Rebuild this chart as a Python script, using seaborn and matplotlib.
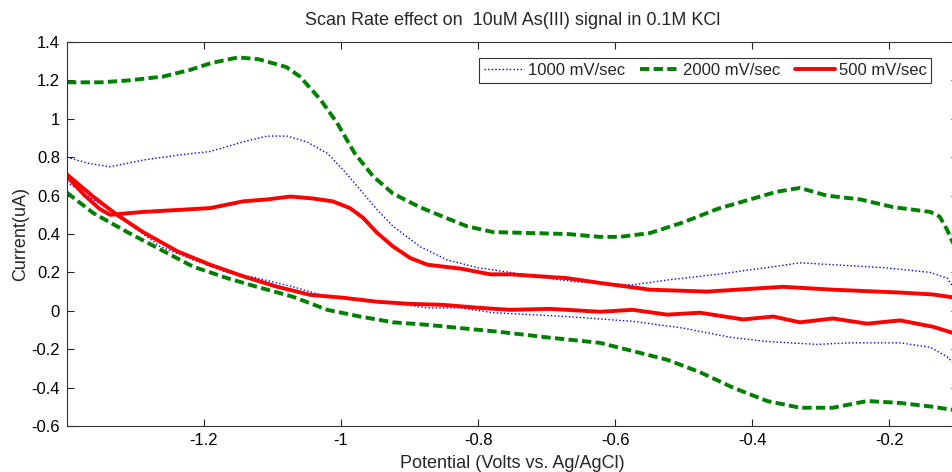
import numpy as np
import pandas as pd
import matplotlib
matplotlib.use("Agg")
import matplotlib.pyplot as plt
import seaborn as sns

# ---------------- data ----------------
series_labels = ["1000 mV/sec", "2000 mV/sec", "500 mV/sec"]

# 2000 mV/sec
g_up_x = [-1.40, -1.35, -1.31, -1.26, -1.22, -1.19, -1.15, -1.12, -1.08, -1.06, -1.03, -1.006,
          -0.98, -0.953, -0.924, -0.885, -0.851, -0.816, -0.778, -0.67, -0.622, -0.593, -0.549,
          -0.501, -0.451, -0.403, -0.364, -0.33, -0.291, -0.242, -0.194, -0.14, -0.126, -0.115,
          -0.107, -0.10]
g_up_y = [1.19, 1.19, 1.20, 1.22, 1.255, 1.29, 1.32, 1.31, 1.27, 1.22, 1.10, 0.98,
          0.82, 0.70, 0.61, 0.54, 0.49, 0.44, 0.41, 0.40, 0.385, 0.385, 0.405,
          0.46, 0.53, 0.58, 0.62, 0.64, 0.60, 0.58, 0.54, 0.515, 0.49, 0.42,
          0.355, 0.30]
g_lo_x = [-1.40, -1.362, -1.312, -1.264, -1.216, -1.166, -1.123, -1.07, -1.02, -0.972, -0.924,
          -0.874, -0.826, -0.768, -0.695, -0.622, -0.574, -0.524, -0.476, -0.428, -0.378, -0.33,
          -0.282, -0.232, -0.184, -0.136, -0.10]
g_lo_y = [0.615, 0.51, 0.41, 0.32, 0.23, 0.17, 0.125, 0.073, 0.005, -0.03, -0.06,
          -0.073, -0.09, -0.11, -0.14, -0.167, -0.21, -0.255, -0.32, -0.40, -0.47, -0.505,
          -0.505, -0.47, -0.48, -0.50, -0.52]

# 1000 mV/sec
b_up_x = [-1.40, -1.371, -1.337, -1.289, -1.239, -1.191, -1.143, -1.108, -1.079, -1.05, -1.02,
          -0.997, -0.972, -0.947, -0.924, -0.885, -0.845, -0.801, -0.753, -0.72, -0.655, -0.574,
          -0.524, -0.451, -0.378, -0.33, -0.282, -0.209, -0.14, -0.115, -0.107, -0.10]
b_up_y = [0.80, 0.77, 0.75, 0.785, 0.81, 0.83, 0.88, 0.91, 0.91, 0.88, 0.82,
          0.735, 0.63, 0.525, 0.44, 0.335, 0.265, 0.225, 0.20, 0.18, 0.15, 0.135,
          0.16, 0.19, 0.225, 0.25, 0.24, 0.225, 0.20, 0.17, 0.125, 0.09]
b_lo_x = [-1.40, -1.362, -1.312, -1.264, -1.216, -1.166, -1.128, -1.07, -1.02, -0.972, -0.924,
          -0.874, -0.826, -0.778, -0.67, -0.574, -0.501, -0.428, -0.378, -0.305, -0.257, -0.184,
          -0.14, -0.115, -0.107, -0.10]
b_lo_y = [0.67, 0.58, 0.46, 0.335, 0.265, 0.20, 0.175, 0.125, 0.073, 0.057, 0.04,
          0.015, 0.015, -0.01, -0.03, -0.055, -0.09, -0.14, -0.16, -0.175, -0.167, -0.167,
          -0.19, -0.24, -0.27, -0.30]

# 500 mV/sec
r_up_x = [-1.40, -1.374, -1.352, -1.337, -1.289, -1.239, -1.191, -1.143, -1.108, -1.074, -1.041,
          -1.012, -0.987, -0.968, -0.947, -0.924, -0.899, -0.874, -0.826, -0.782, -0.753, -0.67,
          -0.622, -0.549, -0.466, -0.355, -0.282, -0.184, -0.136, -0.107, -0.10]
r_up_y = [0.70, 0.60, 0.53, 0.50, 0.515, 0.525, 0.535, 0.57, 0.58, 0.595, 0.585,
          0.57, 0.535, 0.485, 0.405, 0.335, 0.275, 0.24, 0.22, 0.19, 0.19, 0.17,
          0.145, 0.11, 0.10, 0.125, 0.11, 0.095, 0.085, 0.07, 0.065]
r_lo_x = [-1.40, -1.362, -1.327, -1.289, -1.239, -1.191, -1.143, -1.093, -1.045, -0.997, -0.947,
          -0.899, -0.851, -0.801, -0.753, -0.695, -0.622, -0.574, -0.524, -0.476, -0.413, -0.369,
          -0.33, -0.282, -0.232, -0.184, -0.136, -0.107, -0.10]
r_lo_y = [0.71, 0.595, 0.50, 0.41, 0.31, 0.24, 0.18, 0.125, 0.083, 0.068, 0.047,
          0.036, 0.031, 0.016, 0.005, 0.01, -0.005, 0.005, -0.02, -0.01, -0.045, -0.03,
          -0.06, -0.04, -0.067, -0.05, -0.083, -0.115, -0.125]

x_ticks = [-1.2, -1.0, -0.8, -0.6, -0.4, -0.2]
y_ticks = [-0.6, -0.4, -0.2, 0.0, 0.2, 0.4, 0.6, 0.8, 1.0, 1.2, 1.4]


def make_df(up_x, up_y, lo_x, lo_y):
    a = pd.DataFrame({"x": up_x, "y": up_y, "branch": "up"})
    b = pd.DataFrame({"x": lo_x, "y": lo_y, "branch": "lo"})
    return pd.concat([a, b], ignore_index=True)


data = {
    "1000 mV/sec": make_df(b_up_x, b_up_y, b_lo_x, b_lo_y),
    "2000 mV/sec": make_df(g_up_x, g_up_y, g_lo_x, g_lo_y),
    "500 mV/sec": make_df(r_up_x, r_up_y, r_lo_x, r_lo_y),
}

styles = {
    "1000 mV/sec": dict(color="#0000ff", linestyle=(0, (1, 1.6)), linewidth=1.0),
    "2000 mV/sec": dict(color="#008000", linestyle=(0, (2.4, 1.1)), linewidth=2.8),
    "500 mV/sec": dict(color="#ff0000", linestyle="-", linewidth=2.8),
}

# ---------------- plotting ----------------
sns.set_style("ticks")
plt.rcParams["font.family"] = ["Liberation Sans", "DejaVu Sans"]

fig = plt.figure(figsize=(9.53, 4.72), dpi=100)
ax = fig.add_axes([0.0703, 0.0975, 0.9345, 0.8135])

for lab in series_labels:
    sns.lineplot(data=data[lab], x="x", y="y", units="branch", estimator=None,
                 sort=False, ax=ax, legend=False, **styles[lab])

ax.set_xlim(-1.4, -0.1)
ax.set_ylim(-0.6, 1.4)
ax.set_xticks(x_ticks)
ax.set_yticks(y_ticks)
ax.set_xticklabels(["%g" % v for v in x_ticks])
ax.set_yticklabels(["%g" % round(v, 1) for v in y_ticks])
ax.tick_params(direction="in", top=True, right=True, length=5, width=0.8,
               labelsize=12, colors="#222222", labelcolor="black", pad=5)
for s in ax.spines.values():
    s.set_color("#333333")
    s.set_linewidth(0.8)

ax.set_xlabel("Potential (Volts vs. Ag/AgCl)", fontsize=13, labelpad=5)
ax.set_ylabel("Current(uA)", fontsize=13, labelpad=2)
ax.set_title("Scan Rate effect on  10uM As(III) signal in 0.1M KCl", fontsize=13, pad=12)

# one legend entry per series (each series is drawn as two branches)
lines = ax.get_lines()
handles = []
i = 0
for lab in series_labels:
    handles.append(lines[i])
    i += 2
leg = ax.legend(handles, series_labels, loc="upper right", ncol=3, fontsize=12,
                frameon=True, fancybox=False, framealpha=1, edgecolor="#333333",
                borderpad=0.3, handlelength=2.4, handletextpad=0.2, columnspacing=0.9,
                bbox_to_anchor=(0.98, 0.98))
leg.get_frame().set_linewidth(0.8)

fig.savefig("out.png", dpi=100)
